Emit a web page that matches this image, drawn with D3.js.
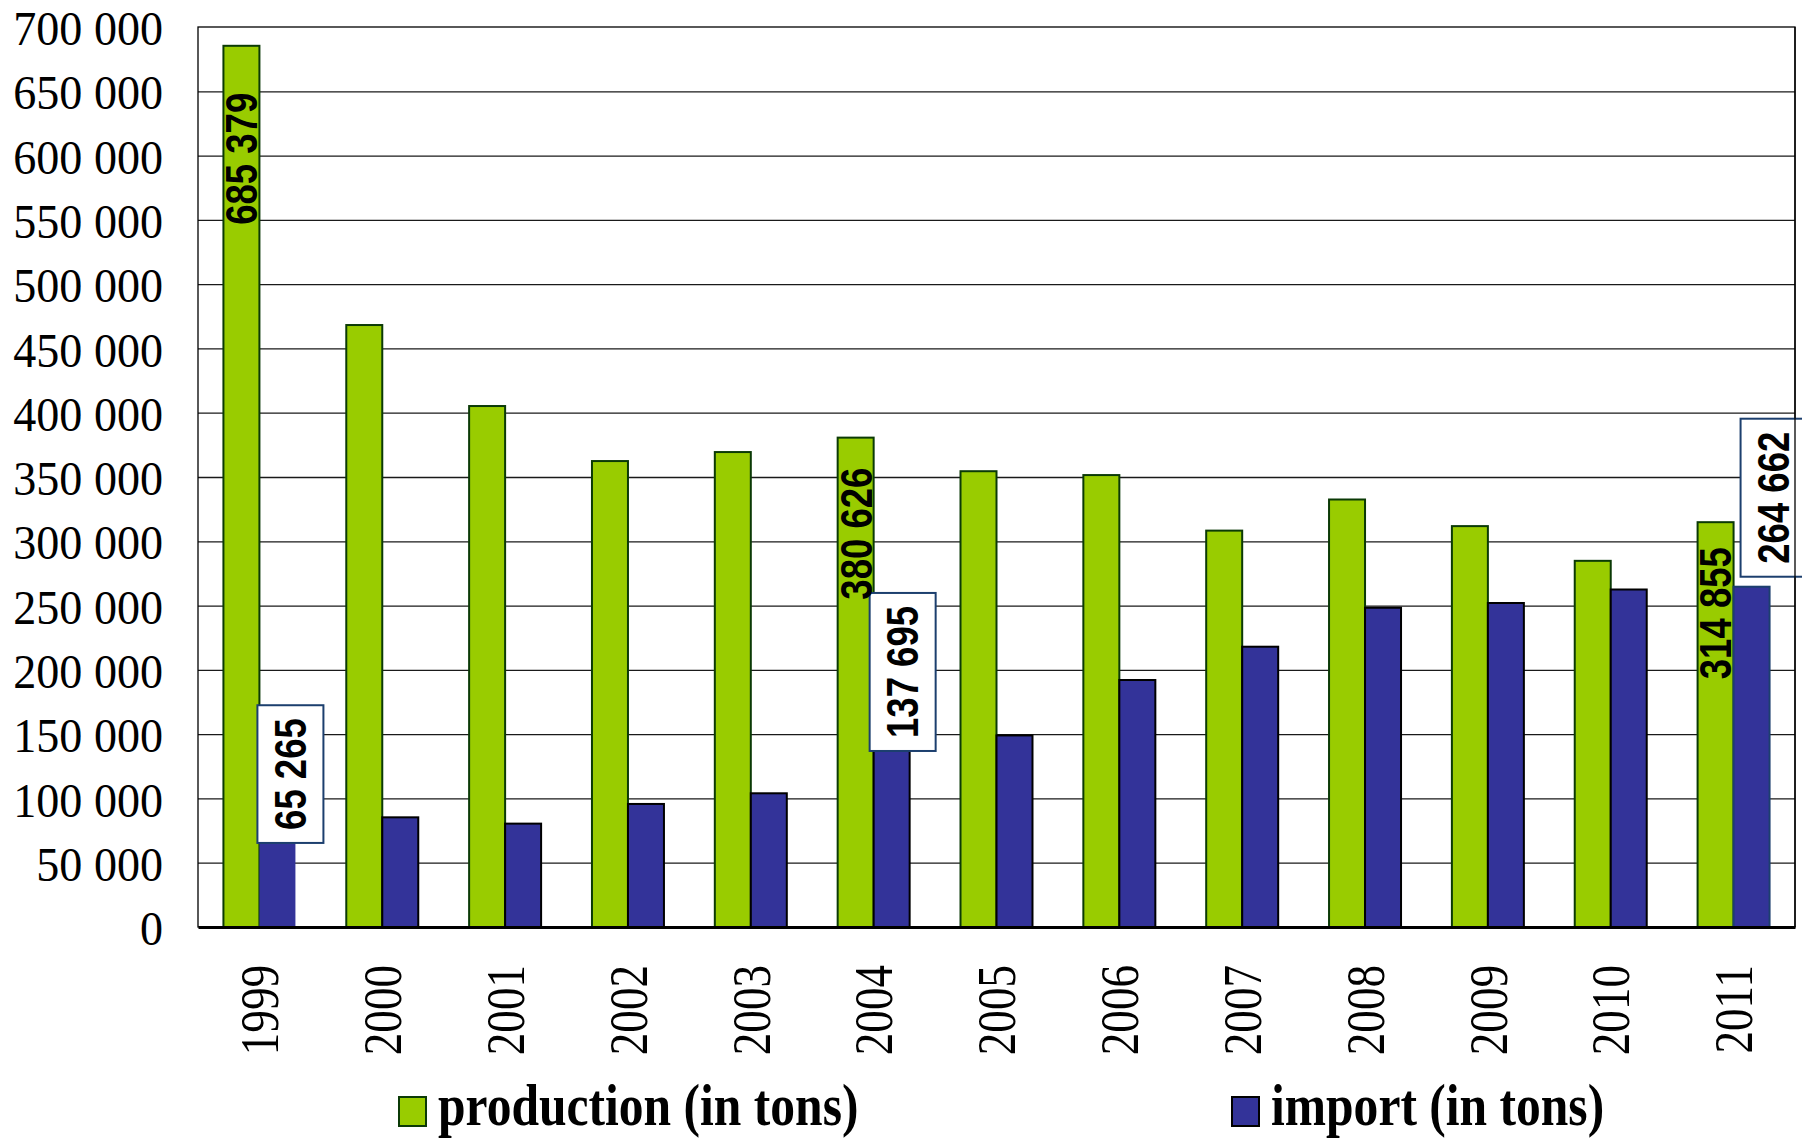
<!DOCTYPE html>
<html>
<head>
<meta charset="utf-8">
<script src="https://cdn.jsdelivr.net/npm/d3@7"></script>
<style>
  body { margin: 0; background: #fff; }
  svg { display: block; }
</style>
</head>
<body>
<svg id="chart" width="1802" height="1138"></svg>
<script>
// ---------- data ----------
const years = ["1999","2000","2001","2002","2003","2004","2005","2006","2007","2008","2009","2010","2011"];
const production = [685379, 468200, 405200, 362400, 369400, 380626, 354500, 351500, 308300, 332500, 311800, 284800, 314855];
const imports    = [65265, 85300, 80400, 95700, 104000, 137695, 149000, 192100, 218000, 248300, 252000, 262500, 264662];
const seriesKeys = ["production", "import"];
const seriesNames = ["production (in tons)", "import (in tons)"];
const yTickValues = [0, 50000, 100000, 150000, 200000, 250000, 300000, 350000, 400000, 450000, 500000, 550000, 600000, 650000, 700000];
const labeledYears = ["1999", "2004", "2011"];

// ---------- layout (not data) ----------
const W = 1802, H = 1138;
const plot = { left: 198, right: 1795, top: 27, bottom: 927 };
const colors = { production: "#99CC00", import: "#333399" };
const strokes = { production: "#0b3a06", import: "#000000" };
// label placement offsets in px (centre of rotated text relative to bar)
const prodLabelDy = { "1999": 113, "2004": 96, "2011": 91 };
const impLabelOffset = { "1999": [13, -69], "2004": [11, -78], "2011": [22, -89] };

const svg = d3.select("#chart");
svg.append("rect").attr("width", W).attr("height", H).attr("fill", "#fff");

const x0 = d3.scaleBand().domain(years).range([plot.left, plot.right])
  .paddingInner(0.414).paddingOuter(0.207);
const x1 = d3.scaleBand().domain(seriesKeys).range([0, x0.bandwidth()]);
const y = d3.scaleLinear().domain([0, 700000]).range([plot.bottom, plot.top]);

const fmt = d3.formatLocale({ thousands: " ", grouping: [3], decimal: ",", currency: ["", ""] }).format(",");

function compress(sel, ratio) {
  sel.each(function () {
    const len = this.getComputedTextLength();
    d3.select(this).attr("textLength", len * ratio).attr("lengthAdjust", "spacingAndGlyphs");
  });
}

// gridlines
const yAxisGrid = d3.axisLeft(y).tickValues(yTickValues.filter(v => v > 0 && v < 700000))
  .tickSize(-(plot.right - plot.left)).tickFormat("");
svg.append("g").attr("transform", `translate(${plot.left},0)`).call(yAxisGrid)
  .call(g => g.select(".domain").remove())
  .call(g => g.selectAll("line").attr("stroke", "#1a1a1a").attr("stroke-width", 1.3));

// y tick labels
const yAxis = d3.axisLeft(y).tickValues(yTickValues).tickSize(0).tickPadding(35).tickFormat(d => fmt(d));
const yg = svg.append("g").attr("transform", `translate(${plot.left},0)`).call(yAxis);
yg.select(".domain").remove();
yg.selectAll("text")
  .attr("font-family", "'Liberation Serif', 'Times New Roman', serif")
  .attr("font-size", 49).attr("fill", "#000").attr("dy", "0.36em")
  .call(compress, 0.94);

// bars
const data = years.map((yr, i) => ({ year: yr, production: production[i], import: imports[i] }));
const groups = svg.append("g").selectAll("g").data(data).join("g")
  .attr("transform", d => `translate(${x0(d.year)},0)`);
groups.selectAll("rect").data(d => seriesKeys.map(k => ({ key: k, year: d.year, value: d[k] })))
  .join("rect")
  .attr("x", d => x1(d.key))
  .attr("y", d => y(d.value))
  .attr("width", x1.bandwidth())
  .attr("height", d => y(0) - y(d.value))
  .attr("fill", d => colors[d.key])
  .attr("stroke", d => (d.key === "import" && d.year === "1999") ? "none" : (d.key === "import" && d.year === "2011" ? "#1c3f6e" : strokes[d.key]))
  .attr("stroke-width", 2);

// plot frame
svg.append("rect").attr("x", plot.left).attr("y", plot.top)
  .attr("width", plot.right - plot.left).attr("height", plot.bottom - plot.top)
  .attr("fill", "none").attr("stroke", "#000").attr("stroke-width", 1.3);

// x axis
const xAxis = d3.axisBottom(x0).tickSize(0).tickFormat(d => d);
const xg = svg.append("g").attr("transform", `translate(0,${plot.bottom})`).call(xAxis);
xg.select(".domain").attr("stroke", "#000").attr("stroke-width", 3);
xg.selectAll(".tick text")
  .attr("font-family", "'Liberation Serif', 'Times New Roman', serif")
  .attr("font-size", 55).attr("fill", "#000")
  .attr("text-anchor", "end")
  .attr("transform", "translate(0,38) rotate(-90)")
  .attr("x", 0).attr("y", 0).attr("dy", "0.34em")
  .call(compress, 0.82);

// import labels with boxes
const labelFont = "'Liberation Sans', Arial, sans-serif";
const impLabels = svg.append("g");
labeledYears.forEach(yr => {
  const i = years.indexOf(yr);
  const v = imports[i];
  const cx = x0(yr) + x1("import") + x1.bandwidth() / 2 + impLabelOffset[yr][0];
  const cy = y(v) + impLabelOffset[yr][1];
  const box = impLabels.append("rect");
  const t = impLabels.append("text")
    .attr("transform", `translate(${cx},${cy}) rotate(-90)`)
    .attr("text-anchor", "middle").attr("dy", "0.36em")
    .attr("font-family", labelFont).attr("font-weight", "bold")
    .attr("font-size", 44).attr("fill", "#000")
    .text(fmt(v))
    .call(compress, 0.83);
  const L = +t.attr("textLength");
  box.attr("x", cx - 33).attr("y", cy - L / 2 - 13).attr("width", 66).attr("height", L + 26)
    .attr("fill", "#fff").attr("stroke", "#1c3f6e").attr("stroke-width", 2);
});

// right frame line over boxes
svg.append("line").attr("x1", plot.right).attr("x2", plot.right).attr("y1", plot.top).attr("y2", plot.bottom)
  .attr("stroke", "#000").attr("stroke-width", 1.3);

// production labels
labeledYears.forEach(yr => {
  const i = years.indexOf(yr);
  const v = production[i];
  const cx = x0(yr) + x1("production") + x1.bandwidth() / 2;
  const cy = y(v) + prodLabelDy[yr];
  svg.append("text")
    .attr("transform", `translate(${cx},${cy}) rotate(-90)`)
    .attr("text-anchor", "middle").attr("dy", "0.36em")
    .attr("font-family", labelFont).attr("font-weight", "bold")
    .attr("font-size", 44).attr("fill", "#000")
    .text(fmt(v))
    .call(compress, 0.83);
});

// legend
const legendItems = [
  { key: "production", name: seriesNames[0], x: 399 },
  { key: "import", name: seriesNames[1], x: 1232 }
];
const lg = svg.append("g");
legendItems.forEach(it => {
  lg.append("rect").attr("x", it.x).attr("y", 1097).attr("width", 27).attr("height", 29)
    .attr("fill", colors[it.key]).attr("stroke", strokes[it.key]).attr("stroke-width", 2);
  lg.append("text").attr("x", it.x + 39).attr("y", 1125)
    .attr("font-family", "'Liberation Serif', 'Times New Roman', serif")
    .attr("font-weight", "bold").attr("font-size", 59).attr("fill", "#000")
    .text(it.name)
    .call(compress, 0.84);
});
</script>
</body>
</html>
